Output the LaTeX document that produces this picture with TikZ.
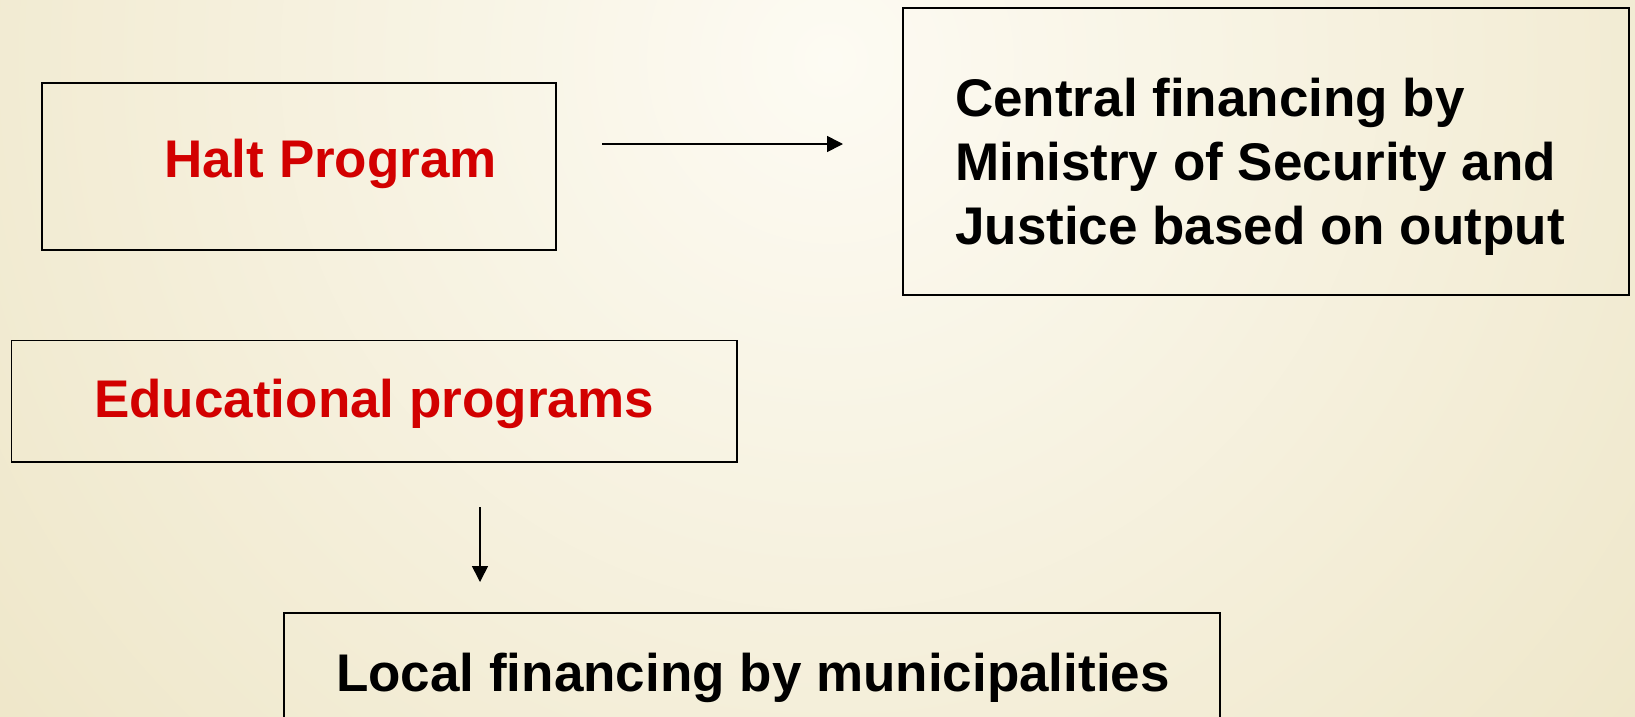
\documentclass[tikz,border=0pt]{standalone}
\usepackage{fontspec}
\setmainfont{Liberation Sans}
\usetikzlibrary{arrows.meta}
\definecolor{bginner}{RGB}{253,251,243}
\definecolor{bgmid}{RGB}{238,230,200}
\definecolor{bgouter}{RGB}{218,202,150}
\definecolor{txtred}{RGB}{210,0,0}
\pgfdeclareradialshading{bgshade}{\pgfpoint{0bp}{0bp}}{color(0bp)=(bginner); color(25bp)=(bgmid); color(50bp)=(bgouter)}
\begin{document}
\begin{tikzpicture}[x=1pt,y=-1pt,
  box/.style={draw=black,line width=1.6pt,inner sep=0pt},
  lbl/.style={font=\bfseries\fontsize{53}{64}\selectfont,inner sep=0pt,anchor=base west},
  arr/.style={-{Triangle[length=16pt,width=16pt]},line width=1.6pt}]
\useasboundingbox (0,0) rectangle (1635,716);
\clip (0,0) rectangle (1635,716);
\fill[bgouter] (0,0) rectangle (1635,716);
\shade[shading=bgshade] (830,60) circle[radius=1100pt];
% boxes
\node[box,minimum width=514pt,minimum height=167pt] (halt) at (299,166.5) {};
\node[box,minimum width=726pt,minimum height=287pt] (central) at (1266,151.5) {};
\node[box,minimum width=725.5pt,minimum height=121.5pt] (edu) at (374.25,401.25) {};
\node[box,minimum width=936pt,minimum height=147pt] (local) at (752,686.5) {};
% texts
\node[lbl,text=txtred] (halttxt) at (164,177) {Halt Program};
\node[lbl] (cen1) at (955,116) {Central financing by};
\node[lbl] (cen2) at (955,180) {Ministry of Security and};
\node[lbl] (cen3) at (955,244) {Justice based on output};
\node[lbl,text=txtred] (edutxt) at (94,417) {Educational programs};
\node[lbl] (localtxt) at (336,691) {Local financing by municipalities};
% arrows
\coordinate (a1s) at (602,144);
\coordinate (a1e) at (843,144);
\coordinate (a2s) at (480,507);
\coordinate (a2e) at (480,582);
\draw[arr] (a1s) -- (a1e);
\draw[arr] (a2s) -- (a2e);
\end{tikzpicture}
\end{document}
